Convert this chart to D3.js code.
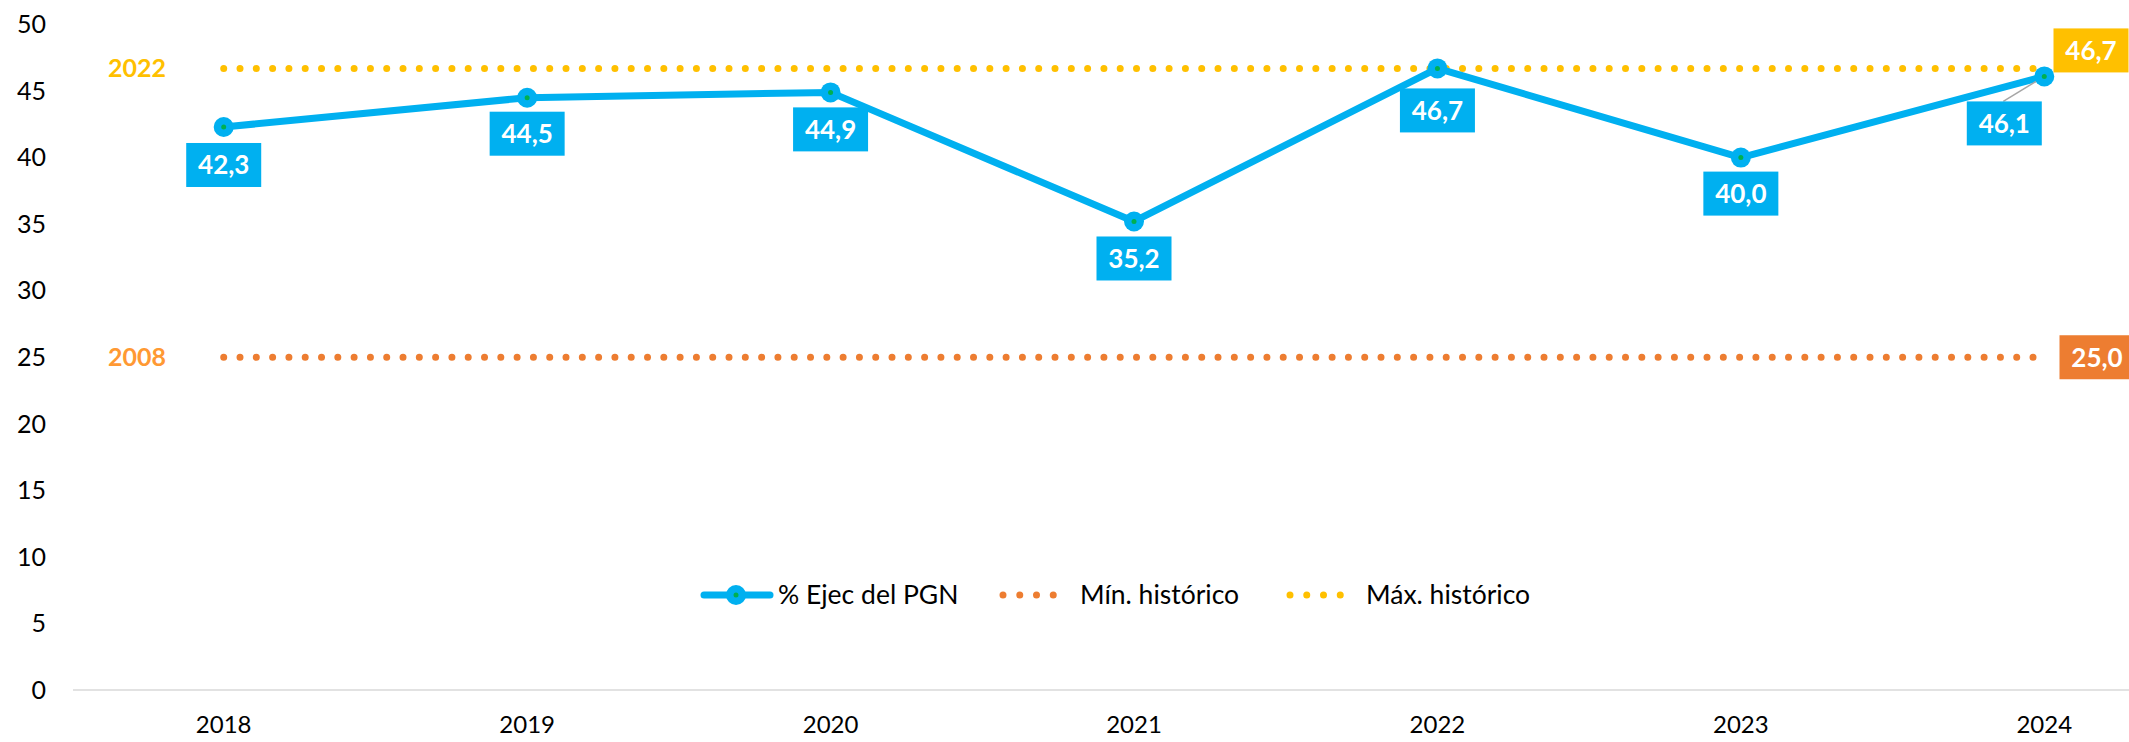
<!DOCTYPE html>
<meta charset="utf-8">
<head>
<title>% Ejecución del PGN</title>
<style>
  body { margin: 0; background: #fff; }
  svg { display: block; font-family: Lato, "Open Sans", sans-serif; }
  .tick-label { font-size: 25px; fill: #000; }
  .legend text { font-size: 26.5px; fill: #000; }
  .val { font-size: 26px; font-weight: bold; fill: #fff; }
</style>
</head>
<body>
<script src="https://d3js.org/d3.v7.min.js"></script>
<div id="chart"></div>
<script>

  // data
  var years = ["2018", "2019", "2020", "2021", "2022", "2023", "2024"];
  var ejec = [42.3, 44.5, 44.9, 35.2, 46.7, 40.0, 46.1];
  var minHist = 25.0, minYear = "2008";
  var maxHist = 46.7, maxYear = "2022";
  var yTicks = [0, 5, 10, 15, 20, 25, 30, 35, 40, 45, 50];
  var legendNames = ["% Ejec del PGN", "Mín. histórico", "Máx. histórico"];

  var width = 2129,
    height = 742;

  var blue = "#00B0F0", orange = "#ED7D31", yellow = "#FFC000";

  var comma = d3.formatLocale({ decimal: ",", thousands: ".", grouping: [3], currency: ["", ""] }).format(".1f");

  const svg = d3.select('#chart')
      .append('svg')
      .attr('width', width)
      .attr('height', height);

  var x = d3.scaleBand()
      .domain(years)
      .range([72, 2196]);

  var y = d3.scaleLinear()
      .domain([0, 50])
      .range([690, 24.5]);

  var cx = function(d) { return x(d) + x.bandwidth() / 2; };

  // y labels (no gridlines)
  svg.append("g").selectAll("text")
      .data(yTicks)
      .enter().append("text")
      .attr("class", "tick-label")
      .attr("x", 46)
      .attr("y", function(d) { return y(d); })
      .attr("dy", "0.35em")
      .attr("text-anchor", "end")
      .text(function(d) { return d; });

  // x axis line
  svg.append("line")
      .attr("x1", 73).attr("x2", width)
      .attr("y1", y(0)).attr("y2", y(0))
      .attr("stroke", "#d9d9d9")
      .attr("stroke-width", 1.5);

  svg.append("g").selectAll("text")
      .data(years)
      .enter().append("text")
      .attr("class", "tick-label")
      .style("font-size", "24px")
      .attr("x", cx)
      .attr("y", 725)
      .attr("dy", "0.35em")
      .attr("text-anchor", "middle")
      .text(function(d) { return d; });

  // reference lines (min / max)
  var refs = [
    { v: minHist, year: minYear, color: orange, text: "#FF9933" },
    { v: maxHist, year: maxYear, color: yellow, text: yellow }
  ];

  refs.forEach(function(r) {
    svg.append("line")
        .attr("x1", cx(years[0])).attr("x2", cx(years[years.length - 1]) - 8)
        .attr("y1", y(r.v)).attr("y2", y(r.v))
        .attr("stroke", r.color)
        .attr("stroke-width", 7)
        .attr("stroke-linecap", "round")
        .attr("stroke-dasharray", "0 16.3");

    svg.append("text")
        .attr("x", 137)
        .attr("y", y(r.v))
        .attr("dy", "0.35em")
        .attr("text-anchor", "middle")
        .attr("font-size", 25)
        .attr("font-weight", "bold")
        .attr("fill", r.text)
        .text(r.year);
  });

  // main line
  var line = d3.line()
      .x(function(d, i) { return cx(years[i]); })
      .y(function(d) { return y(d); });

  svg.append("path")
      .datum(ejec)
      .attr("d", line)
      .attr("fill", "none")
      .attr("stroke", blue)
      .attr("stroke-width", 7)
      .attr("stroke-linejoin", "round");

  // leader line for the last label
  var last = ejec.length - 1;
  svg.append("line")
      .attr("x1", cx(years[last])).attr("y1", y(ejec[last]))
      .attr("x2", cx(years[last]) - 41).attr("y2", y(ejec[last]) + 25)
      .attr("stroke", "#a6a6a6")
      .attr("stroke-width", 1.5);

  var pts = svg.append("g").selectAll("g")
      .data(ejec)
      .enter().append("g")
      .attr("transform", function(d, i) { return "translate(" + cx(years[i]) + "," + y(d) + ")"; });

  pts.append("circle").attr("r", 10).attr("fill", blue);
  pts.append("circle").attr("r", 2.5).attr("fill", "#00B050");

  // value labels: box centre offset from the point
  var labelShift = [[0, 38], [0, 36], [0, 37], [0, 37], [0, 42], [0, 36], [-40, 47]];

  var lab = svg.append("g").selectAll("g")
      .data(ejec)
      .enter().append("g")
      .attr("transform", function(d, i) {
        return "translate(" + (cx(years[i]) + labelShift[i][0]) + "," + (y(d) + labelShift[i][1]) + ")";
      });

  lab.append("rect")
      .attr("x", -37.5).attr("y", -22)
      .attr("width", 75).attr("height", 44)
      .attr("fill", blue);

  lab.append("text")
      .attr("class", "val")
      .attr("text-anchor", "middle")
      .attr("dy", "0.36em")
      .text(function(d) { return comma(d); });

  // end labels for the reference lines
  var endLabels = [
    { v: maxHist, color: yellow, cx: 2091 },
    { v: minHist, color: orange, cx: 2097 }
  ];
  endLabels.forEach(function(e) {
    var g = svg.append("g")
        .attr("transform", "translate(" + e.cx + "," + (y(e.v) - (e.v === maxHist ? 18 : 0)) + ")");
    g.append("rect")
        .attr("x", -37.5).attr("y", -22)
        .attr("width", 75).attr("height", 44)
        .attr("fill", e.color);
    g.append("text")
        .attr("class", "val")
        .attr("text-anchor", "middle")
        .attr("dy", "0.36em")
        .text(comma(e.v));
  });

  // legend
  var leg = svg.append("g").attr("class", "legend").attr("transform", "translate(0,595)");

  leg.append("line")
      .attr("x1", 704).attr("x2", 770)
      .attr("stroke", blue).attr("stroke-width", 7).attr("stroke-linecap", "round");
  leg.append("circle").attr("cx", 736).attr("r", 10).attr("fill", blue);
  leg.append("circle").attr("cx", 736).attr("r", 2.5).attr("fill", "#00B050");
  leg.append("text").attr("x", 778).attr("dy", "0.35em").text(legendNames[0]);

  [[1003, orange, legendNames[1], 1080], [1290, yellow, legendNames[2], 1366]].forEach(function(l) {
    leg.append("line")
        .attr("x1", l[0]).attr("x2", l[0] + 67)
        .attr("stroke", l[1]).attr("stroke-width", 7).attr("stroke-linecap", "round")
        .attr("stroke-dasharray", "0 16.75");
    leg.append("text").attr("x", l[3]).attr("dy", "0.35em").text(l[2]);
  });

</script>
</body>
